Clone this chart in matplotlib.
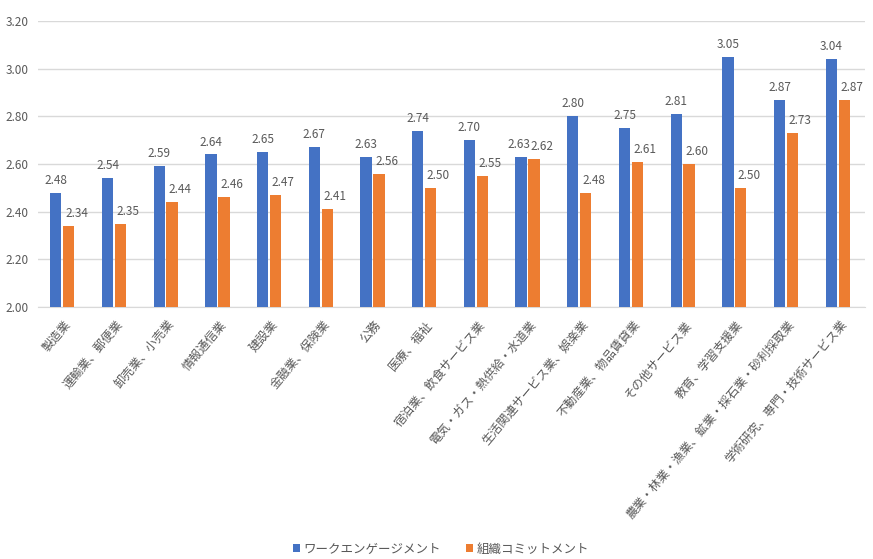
import matplotlib
matplotlib.use("Agg")
import matplotlib.pyplot as plt
import numpy as np

plt.rcParams['font.family'] = ['Noto Sans CJK JP', 'DejaVu Sans']

categories = ["製造業", "運輸業、郵便業", "卸売業、小売業", "情報通信業", "建設業",
              "金融業、保険業", "公務", "医療、福祉", "宿泊業、飲食サービス業",
              "電気・ガス・熱供給・水道業", "生活関連サービス業、娯楽業",
              "不動産業、物品賃貸業", "その他サービス業", "教育、学習支援業",
              "農業・林業・漁業、鉱業・採石業・砂利採取業", "学術研究、専門・技術サービス業"]
work_engagement = [2.48, 2.54, 2.59, 2.64, 2.65, 2.67, 2.63, 2.74, 2.70, 2.63,
                   2.80, 2.75, 2.81, 3.05, 2.87, 3.04]
org_commitment = [2.34, 2.35, 2.44, 2.46, 2.47, 2.41, 2.56, 2.50, 2.55, 2.62,
                  2.48, 2.61, 2.60, 2.50, 2.73, 2.87]
series_names = ["ワークエンゲージメント", "組織コミットメント"]
yticks = [2.00, 2.20, 2.40, 2.60, 2.80, 3.00, 3.20]

blue = "#4472C4"
orange = "#ED7D31"
txt = "#595959"

fig = plt.figure(figsize=(8.73, 5.59), dpi=100)
ax = fig.add_axes([0.0435, 0.4508, 0.9475, 0.5116])

x = np.arange(len(categories))
w = 0.22
gap = 0.03
b1 = ax.bar(x - (w + gap) / 2 - 0.03, work_engagement, w, color=blue, label=series_names[0], zorder=3)
b2 = ax.bar(x + (w + gap) / 2 - 0.03, org_commitment, w, color=orange, label=series_names[1], zorder=3)

for i, (rect, v) in enumerate(zip(b1, work_engagement)):
    dx = -0.05 if i == 9 else 0.0
    ax.text(rect.get_x() + rect.get_width() / 2 + dx, v + 0.025, f"{v:.2f}", ha="center", va="bottom",
            fontsize=8.5, color=txt)
for rect, v in zip(b2, org_commitment):
    ax.text(rect.get_x() + rect.get_width() / 2 + 0.15, v + 0.025, f"{v:.2f}", ha="center", va="bottom",
            fontsize=8.5, color=txt)

ax.set_ylim(2.0, 3.2)
ax.set_xlim(-0.5, len(categories) - 0.5)
ax.set_yticks(yticks)
ax.set_yticklabels([f"{t:.2f}" for t in yticks], fontsize=8.5, color=txt)
ax.yaxis.grid(True, color="#D9D9D9", linewidth=1, zorder=0)
ax.set_axisbelow(True)
for s in ["top", "right", "left"]:
    ax.spines[s].set_visible(False)
ax.spines["bottom"].set_color("#D9D9D9")
ax.tick_params(axis="both", length=0)
ax.tick_params(axis="y", pad=7)
ax.set_xticks(x)
ax.set_xticklabels(categories, rotation=50, ha="right", rotation_mode="anchor",
                   fontsize=8.7, color=txt)
ax.tick_params(axis="x", pad=8)

fig.legend(handles=[b1, b2], labels=series_names, loc="lower center", ncol=2,
           bbox_to_anchor=(0.505, -0.014), frameon=False, fontsize=9, labelcolor=txt,
           handlelength=0.55, handleheight=0.55, columnspacing=2.0, handletextpad=0.3)

fig.savefig("out.png", dpi=100)
